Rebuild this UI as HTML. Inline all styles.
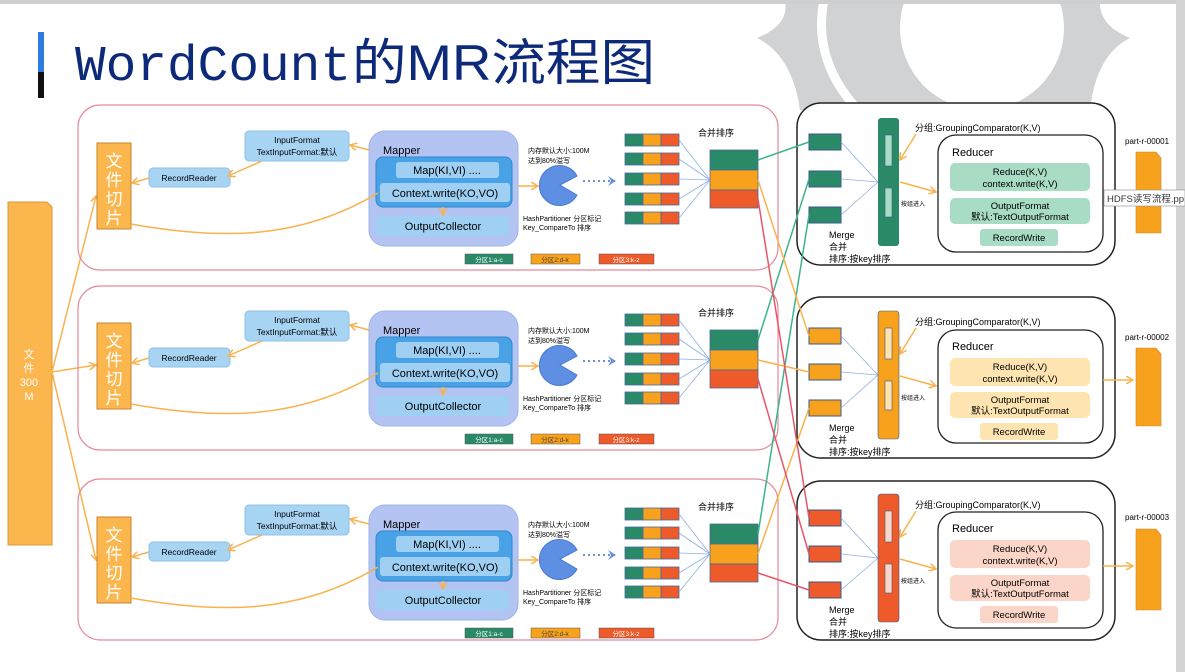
<!DOCTYPE html>
<html><head><meta charset="utf-8"><style>
html,body{margin:0;padding:0;background:#fff;}
svg{display:block;font-family:"Liberation Sans","Noto Sans CJK SC",sans-serif;}
</style></head><body>
<svg width="1185" height="672" viewBox="0 0 1185 672" xmlns="http://www.w3.org/2000/svg">
<defs>
<marker id="ao" markerWidth="8" markerHeight="8" refX="7" refY="4" orient="auto" markerUnits="userSpaceOnUse"><path d="M0,0 L7,4 L0,8" fill="none" stroke="#f9b24e" stroke-width="1.5"/></marker>
<marker id="ab" markerWidth="10" markerHeight="10" refX="8" refY="5" orient="auto" markerUnits="userSpaceOnUse"><path d="M0,0 L8,5 L0,10 L3,5z" fill="#6f8fd8"/></marker>
</defs>
<rect x="0" y="0" width="1185" height="672" fill="#fff"/>
<!-- bg decoration -->
<path d="M785,0 Q790,25 757,38 Q792,55 800,110 L1090,110 Q1096,55 1130,38 Q1098,25 1100,0 Z" fill="#d1d2d4"/>
<circle cx="982" cy="28" r="82" fill="#fff"/>
<path d="M824,0 Q812,60 858,110" stroke="#fff" stroke-width="9" fill="none"/>
<rect x="0" y="0" width="1185" height="4" fill="#cfcfcf"/>
<rect x="1176" y="0" width="9" height="672" fill="#d4d4d4"/>
<!-- title -->
<rect x="38" y="32" width="6" height="40" fill="#2f7be0"/>
<rect x="38" y="72" width="6" height="26" fill="#111"/>
<text x="75" y="80" font-family="Liberation Mono,monospace" font-size="50" fill="#0d2a7a" textLength="276" lengthAdjust="spacingAndGlyphs">WordCount</text>
<text x="352" y="80" font-family="Liberation Sans,Noto Sans CJK SC,sans-serif" font-size="50" fill="#0d2a7a" textLength="303" lengthAdjust="spacingAndGlyphs">的MR流程图</text>

<!-- big file -->
<path d="M8,202 L47,202 L52,207 L52,545 L8,545Z" fill="#fbb64d" stroke="#d99a3a"/>
<text x="29" y="358" font-size="11" fill="#fff" text-anchor="middle">文</text>
<text x="29" y="372" font-size="11" fill="#fff" text-anchor="middle">件</text>
<text x="29" y="386" font-size="11" fill="#fff" text-anchor="middle">300</text>
<text x="29" y="400" font-size="11" fill="#fff" text-anchor="middle">M</text>
<g stroke="#f9b24e" stroke-width="1.5" fill="none" marker-end="url(#ao)">
<path d="M52,372 L96,196"/><path d="M52,372 L96,365"/><path d="M52,372 L96,560"/>
</g>

<!-- ===== mapper rows ===== -->
<g>
<rect x="78" y="105" width="700" height="165" rx="22" fill="none" stroke="#e58a9a" stroke-width="1.2"/>
<rect x="97" y="143" width="34" height="86" fill="#fbb64d" stroke="#c9862e"/>
<text x="114" y="167" font-size="17" fill="#fff" text-anchor="middle">文</text>
<text x="114" y="186" font-size="17" fill="#fff" text-anchor="middle">件</text>
<text x="114" y="205" font-size="17" fill="#fff" text-anchor="middle">切</text>
<text x="114" y="224" font-size="17" fill="#fff" text-anchor="middle">片</text>
<rect x="245" y="131" width="104" height="30" rx="4" fill="#a8d4f4" stroke="#8ec0ea"/>
<text x="297" y="143" font-size="8.5" text-anchor="middle">InputFormat</text>
<text x="297" y="155" font-size="8.5" text-anchor="middle">TextInputFormat:默认</text>
<rect x="149" y="168" width="81" height="19" rx="4" fill="#a8d4f4" stroke="#8ec0ea"/>
<text x="189" y="181" font-size="8.5" text-anchor="middle">RecordReader</text>
<rect x="369" y="131" width="149" height="115" rx="16" fill="#b3c4f3" stroke="#9fb3ea"/>
<text x="383" y="154" font-size="11">Mapper</text>
<rect x="376" y="157" width="136" height="50" rx="7" fill="#4aa2e6" stroke="#2d86cc"/>
<rect x="396" y="162" width="103" height="16" rx="3" fill="#9fd0f4"/>
<text x="447" y="174" font-size="11" text-anchor="middle">Map(KI,VI) ....</text>
<rect x="380" y="183" width="130" height="19" rx="3" fill="#9fd0f4"/>
<text x="445" y="197" font-size="11" text-anchor="middle">Context.write(KO,VO)</text>
<rect x="376" y="216" width="133" height="20" rx="3" fill="#9fd0f4"/>
<text x="443" y="230" font-size="11" text-anchor="middle">OutputCollector</text>
<g stroke="#f9b24e" stroke-width="1.5" fill="none" marker-end="url(#ao)">
<path d="M369,150 L350,145"/><path d="M262,161 L228,176"/><path d="M149,178 L132,183"/>
<path d="M443,207 L443,215"/><path d="M518,186 L538,186"/>
</g>
<path d="M378,193 C300,240 220,240 131,224" stroke="#f9b24e" stroke-width="1.5" fill="none"/>
<path d="M560,185 L577,176 A20,20 0 1 0 577,195 Z" fill="#5e8fe2" stroke="#4a7bd0"/>
<path d="M583,181 L616,181" stroke="#6f8fd8" stroke-width="2" stroke-dasharray="2,3" marker-end="url(#ab)"/>
<text x="528" y="153" font-size="7">内存默认大小:100M</text>
<text x="528" y="163" font-size="7">达到80%溢写</text>
<text x="523" y="221" font-size="7">HashPartitioner 分区标记</text>
<text x="523" y="230" font-size="7">Key_CompareTo 排序</text>
<g stroke="#4a6a9a" stroke-width="0.8">
<rect x="625" y="134" width="18" height="12" fill="#2a8a68"/><rect x="643" y="134" width="18" height="12" fill="#f8a11c"/><rect x="661" y="134" width="18" height="12" fill="#ef5a2a"/>
<rect x="625" y="153" width="18" height="12" fill="#2a8a68"/><rect x="643" y="153" width="18" height="12" fill="#f8a11c"/><rect x="661" y="153" width="18" height="12" fill="#ef5a2a"/>
<rect x="625" y="173" width="18" height="12" fill="#2a8a68"/><rect x="643" y="173" width="18" height="12" fill="#f8a11c"/><rect x="661" y="173" width="18" height="12" fill="#ef5a2a"/>
<rect x="625" y="193" width="18" height="12" fill="#2a8a68"/><rect x="643" y="193" width="18" height="12" fill="#f8a11c"/><rect x="661" y="193" width="18" height="12" fill="#ef5a2a"/>
<rect x="625" y="212" width="18" height="12" fill="#2a8a68"/><rect x="643" y="212" width="18" height="12" fill="#f8a11c"/><rect x="661" y="212" width="18" height="12" fill="#ef5a2a"/>
<rect x="710" y="150" width="48" height="20" fill="#2a8a68"/><rect x="710" y="170" width="48" height="20" fill="#f8a11c"/><rect x="710" y="190" width="48" height="18" fill="#ef5a2a"/>
</g>
<g stroke="#8eaee8" stroke-width="0.8">
<path d="M679,140 L710,180"/><path d="M679,159 L710,180"/><path d="M679,179 L710,180"/><path d="M679,199 L710,180"/><path d="M679,218 L710,180"/>
</g>
<text x="698" y="136" font-size="9">合并排序</text>
<rect x="465" y="254" width="48" height="10" fill="#2a8a68" stroke="#555" stroke-width="0.5"/>
<text x="489" y="262" font-size="6.5" fill="#fff" text-anchor="middle">分区1:a-c</text>
<rect x="531" y="254" width="49" height="10" fill="#f8a11c" stroke="#555" stroke-width="0.5"/>
<text x="555" y="262" font-size="6.5" fill="#444" text-anchor="middle">分区2:d-k</text>
<rect x="599" y="254" width="55" height="10" fill="#ef5a2a" stroke="#555" stroke-width="0.5"/>
<text x="626" y="262" font-size="6.5" fill="#fff" text-anchor="middle">分区3:k-z</text>
</g>

<g transform="translate(0,180)">
<rect x="78" y="106" width="700" height="164" rx="22" fill="none" stroke="#e58a9a" stroke-width="1.2"/>
<rect x="97" y="143" width="34" height="86" fill="#fbb64d" stroke="#c9862e"/>
<text x="114" y="167" font-size="17" fill="#fff" text-anchor="middle">文</text>
<text x="114" y="186" font-size="17" fill="#fff" text-anchor="middle">件</text>
<text x="114" y="205" font-size="17" fill="#fff" text-anchor="middle">切</text>
<text x="114" y="224" font-size="17" fill="#fff" text-anchor="middle">片</text>
<rect x="245" y="131" width="104" height="30" rx="4" fill="#a8d4f4" stroke="#8ec0ea"/>
<text x="297" y="143" font-size="8.5" text-anchor="middle">InputFormat</text>
<text x="297" y="155" font-size="8.5" text-anchor="middle">TextInputFormat:默认</text>
<rect x="149" y="168" width="81" height="19" rx="4" fill="#a8d4f4" stroke="#8ec0ea"/>
<text x="189" y="181" font-size="8.5" text-anchor="middle">RecordReader</text>
<rect x="369" y="131" width="149" height="115" rx="16" fill="#b3c4f3" stroke="#9fb3ea"/>
<text x="383" y="154" font-size="11">Mapper</text>
<rect x="376" y="157" width="136" height="50" rx="7" fill="#4aa2e6" stroke="#2d86cc"/>
<rect x="396" y="162" width="103" height="16" rx="3" fill="#9fd0f4"/>
<text x="447" y="174" font-size="11" text-anchor="middle">Map(KI,VI) ....</text>
<rect x="380" y="183" width="130" height="19" rx="3" fill="#9fd0f4"/>
<text x="445" y="197" font-size="11" text-anchor="middle">Context.write(KO,VO)</text>
<rect x="376" y="216" width="133" height="20" rx="3" fill="#9fd0f4"/>
<text x="443" y="230" font-size="11" text-anchor="middle">OutputCollector</text>
<g stroke="#f9b24e" stroke-width="1.5" fill="none" marker-end="url(#ao)">
<path d="M369,150 L350,145"/><path d="M262,161 L228,176"/><path d="M149,178 L132,183"/>
<path d="M443,207 L443,215"/><path d="M518,186 L538,186"/>
</g>
<path d="M378,193 C300,240 220,240 131,224" stroke="#f9b24e" stroke-width="1.5" fill="none"/>
<path d="M560,185 L577,176 A20,20 0 1 0 577,195 Z" fill="#5e8fe2" stroke="#4a7bd0"/>
<path d="M583,181 L616,181" stroke="#6f8fd8" stroke-width="2" stroke-dasharray="2,3" marker-end="url(#ab)"/>
<text x="528" y="153" font-size="7">内存默认大小:100M</text>
<text x="528" y="163" font-size="7">达到80%溢写</text>
<text x="523" y="221" font-size="7">HashPartitioner 分区标记</text>
<text x="523" y="230" font-size="7">Key_CompareTo 排序</text>
<g stroke="#4a6a9a" stroke-width="0.8">
<rect x="625" y="134" width="18" height="12" fill="#2a8a68"/><rect x="643" y="134" width="18" height="12" fill="#f8a11c"/><rect x="661" y="134" width="18" height="12" fill="#ef5a2a"/>
<rect x="625" y="153" width="18" height="12" fill="#2a8a68"/><rect x="643" y="153" width="18" height="12" fill="#f8a11c"/><rect x="661" y="153" width="18" height="12" fill="#ef5a2a"/>
<rect x="625" y="173" width="18" height="12" fill="#2a8a68"/><rect x="643" y="173" width="18" height="12" fill="#f8a11c"/><rect x="661" y="173" width="18" height="12" fill="#ef5a2a"/>
<rect x="625" y="193" width="18" height="12" fill="#2a8a68"/><rect x="643" y="193" width="18" height="12" fill="#f8a11c"/><rect x="661" y="193" width="18" height="12" fill="#ef5a2a"/>
<rect x="625" y="212" width="18" height="12" fill="#2a8a68"/><rect x="643" y="212" width="18" height="12" fill="#f8a11c"/><rect x="661" y="212" width="18" height="12" fill="#ef5a2a"/>
<rect x="710" y="150" width="48" height="20" fill="#2a8a68"/><rect x="710" y="170" width="48" height="20" fill="#f8a11c"/><rect x="710" y="190" width="48" height="18" fill="#ef5a2a"/>
</g>
<g stroke="#8eaee8" stroke-width="0.8">
<path d="M679,140 L710,180"/><path d="M679,159 L710,180"/><path d="M679,179 L710,180"/><path d="M679,199 L710,180"/><path d="M679,218 L710,180"/>
</g>
<text x="698" y="136" font-size="9">合并排序</text>
<rect x="465" y="254" width="48" height="10" fill="#2a8a68" stroke="#555" stroke-width="0.5"/>
<text x="489" y="262" font-size="6.5" fill="#fff" text-anchor="middle">分区1:a-c</text>
<rect x="531" y="254" width="49" height="10" fill="#f8a11c" stroke="#555" stroke-width="0.5"/>
<text x="555" y="262" font-size="6.5" fill="#444" text-anchor="middle">分区2:d-k</text>
<rect x="599" y="254" width="55" height="10" fill="#ef5a2a" stroke="#555" stroke-width="0.5"/>
<text x="626" y="262" font-size="6.5" fill="#fff" text-anchor="middle">分区3:k-z</text>
</g>

<g transform="translate(0,374)">
<rect x="78" y="105" width="700" height="161" rx="22" fill="none" stroke="#e58a9a" stroke-width="1.2"/>
<rect x="97" y="143" width="34" height="86" fill="#fbb64d" stroke="#c9862e"/>
<text x="114" y="167" font-size="17" fill="#fff" text-anchor="middle">文</text>
<text x="114" y="186" font-size="17" fill="#fff" text-anchor="middle">件</text>
<text x="114" y="205" font-size="17" fill="#fff" text-anchor="middle">切</text>
<text x="114" y="224" font-size="17" fill="#fff" text-anchor="middle">片</text>
<rect x="245" y="131" width="104" height="30" rx="4" fill="#a8d4f4" stroke="#8ec0ea"/>
<text x="297" y="143" font-size="8.5" text-anchor="middle">InputFormat</text>
<text x="297" y="155" font-size="8.5" text-anchor="middle">TextInputFormat:默认</text>
<rect x="149" y="168" width="81" height="19" rx="4" fill="#a8d4f4" stroke="#8ec0ea"/>
<text x="189" y="181" font-size="8.5" text-anchor="middle">RecordReader</text>
<rect x="369" y="131" width="149" height="115" rx="16" fill="#b3c4f3" stroke="#9fb3ea"/>
<text x="383" y="154" font-size="11">Mapper</text>
<rect x="376" y="157" width="136" height="50" rx="7" fill="#4aa2e6" stroke="#2d86cc"/>
<rect x="396" y="162" width="103" height="16" rx="3" fill="#9fd0f4"/>
<text x="447" y="174" font-size="11" text-anchor="middle">Map(KI,VI) ....</text>
<rect x="380" y="183" width="130" height="19" rx="3" fill="#9fd0f4"/>
<text x="445" y="197" font-size="11" text-anchor="middle">Context.write(KO,VO)</text>
<rect x="376" y="216" width="133" height="20" rx="3" fill="#9fd0f4"/>
<text x="443" y="230" font-size="11" text-anchor="middle">OutputCollector</text>
<g stroke="#f9b24e" stroke-width="1.5" fill="none" marker-end="url(#ao)">
<path d="M369,150 L350,145"/><path d="M262,161 L228,176"/><path d="M149,178 L132,183"/>
<path d="M443,207 L443,215"/><path d="M518,186 L538,186"/>
</g>
<path d="M378,193 C300,240 220,240 131,224" stroke="#f9b24e" stroke-width="1.5" fill="none"/>
<path d="M560,185 L577,176 A20,20 0 1 0 577,195 Z" fill="#5e8fe2" stroke="#4a7bd0"/>
<path d="M583,181 L616,181" stroke="#6f8fd8" stroke-width="2" stroke-dasharray="2,3" marker-end="url(#ab)"/>
<text x="528" y="153" font-size="7">内存默认大小:100M</text>
<text x="528" y="163" font-size="7">达到80%溢写</text>
<text x="523" y="221" font-size="7">HashPartitioner 分区标记</text>
<text x="523" y="230" font-size="7">Key_CompareTo 排序</text>
<g stroke="#4a6a9a" stroke-width="0.8">
<rect x="625" y="134" width="18" height="12" fill="#2a8a68"/><rect x="643" y="134" width="18" height="12" fill="#f8a11c"/><rect x="661" y="134" width="18" height="12" fill="#ef5a2a"/>
<rect x="625" y="153" width="18" height="12" fill="#2a8a68"/><rect x="643" y="153" width="18" height="12" fill="#f8a11c"/><rect x="661" y="153" width="18" height="12" fill="#ef5a2a"/>
<rect x="625" y="173" width="18" height="12" fill="#2a8a68"/><rect x="643" y="173" width="18" height="12" fill="#f8a11c"/><rect x="661" y="173" width="18" height="12" fill="#ef5a2a"/>
<rect x="625" y="193" width="18" height="12" fill="#2a8a68"/><rect x="643" y="193" width="18" height="12" fill="#f8a11c"/><rect x="661" y="193" width="18" height="12" fill="#ef5a2a"/>
<rect x="625" y="212" width="18" height="12" fill="#2a8a68"/><rect x="643" y="212" width="18" height="12" fill="#f8a11c"/><rect x="661" y="212" width="18" height="12" fill="#ef5a2a"/>
<rect x="710" y="150" width="48" height="20" fill="#2a8a68"/><rect x="710" y="170" width="48" height="20" fill="#f8a11c"/><rect x="710" y="190" width="48" height="18" fill="#ef5a2a"/>
</g>
<g stroke="#8eaee8" stroke-width="0.8">
<path d="M679,140 L710,180"/><path d="M679,159 L710,180"/><path d="M679,179 L710,180"/><path d="M679,199 L710,180"/><path d="M679,218 L710,180"/>
</g>
<text x="698" y="136" font-size="9">合并排序</text>
<rect x="465" y="254" width="48" height="10" fill="#2a8a68" stroke="#555" stroke-width="0.5"/>
<text x="489" y="262" font-size="6.5" fill="#fff" text-anchor="middle">分区1:a-c</text>
<rect x="531" y="254" width="49" height="10" fill="#f8a11c" stroke="#555" stroke-width="0.5"/>
<text x="555" y="262" font-size="6.5" fill="#444" text-anchor="middle">分区2:d-k</text>
<rect x="599" y="254" width="55" height="10" fill="#ef5a2a" stroke="#555" stroke-width="0.5"/>
<text x="626" y="262" font-size="6.5" fill="#fff" text-anchor="middle">分区3:k-z</text>
</g>

<!-- ===== reducer rows ===== -->
<g>
<rect x="797" y="103" width="318" height="162" rx="24" fill="#fff" stroke="#222" stroke-width="1.5"/>
<rect x="938" y="135" width="165" height="117" rx="18" fill="#fff" stroke="#222" stroke-width="1.3"/>
<g stroke="#3a5a8a" stroke-width="1"><rect x="809" y="134" width="32" height="16" fill="#2a8a68"/><rect x="809" y="171" width="32" height="16" fill="#2a8a68"/><rect x="809" y="207" width="32" height="16" fill="#2a8a68"/></g>
<g stroke="#8eaee8" stroke-width="0.8"><path d="M841,142 L878,182"/><path d="M841,179 L878,182"/><path d="M841,215 L878,182"/></g>
<rect x="878" y="118" width="21" height="128" rx="3" fill="#2a8a68"/>
<rect x="885" y="135" width="7" height="31" fill="#a8dcc4" stroke="#3a5a8a" stroke-width="0.6"/>
<rect x="885" y="188" width="7" height="29" fill="#a8dcc4" stroke="#3a5a8a" stroke-width="0.6"/>
<text x="829" y="238" font-size="9">Merge</text><text x="829" y="250" font-size="9">合并</text><text x="829" y="262" font-size="9">排序:按key排序</text>
<text x="915" y="131" font-size="9">分组:GroupingComparator(K,V)</text>
<g stroke="#f9b24e" stroke-width="1.5" fill="none" marker-end="url(#ao)"><path d="M916,134 L900,160"/><path d="M900,182 L936,192"/></g>
<text x="901" y="206" font-size="6">按组进入</text>
<text x="952" y="156" font-size="11">Reducer</text>
<rect x="950" y="163" width="140" height="28" rx="5" fill="#a8dcc4"/>
<text x="1020" y="175" font-size="9.5" text-anchor="middle">Reduce(K,V)</text><text x="1020" y="187" font-size="9.5" text-anchor="middle">context.write(K,V)</text>
<rect x="950" y="198" width="140" height="26" rx="5" fill="#a8dcc4"/>
<text x="1020" y="209" font-size="9.5" text-anchor="middle">OutputFormat</text><text x="1020" y="220" font-size="9.5" text-anchor="middle">默认:TextOutputFormat</text>
<rect x="980" y="229" width="78" height="17" rx="3" fill="#a8dcc4"/>
<text x="1019" y="241" font-size="9.5" text-anchor="middle">RecordWrite</text>
<text x="1125" y="144" font-size="8">part-r-00001</text>
<path d="M1136,152 L1156,152 L1161,158 L1161,233 L1136,233Z" fill="#f8a11c" stroke="#c98a2a" stroke-width="0.6"/>
</g>

<g>
<rect x="797" y="297" width="318" height="161" rx="24" fill="#fff" stroke="#222" stroke-width="1.5"/>
<rect x="938" y="330" width="165" height="113" rx="18" fill="#fff" stroke="#222" stroke-width="1.3"/>
<g stroke="#3a5a8a" stroke-width="1"><rect x="809" y="328" width="32" height="16" fill="#f8a11c"/><rect x="809" y="364" width="32" height="16" fill="#f8a11c"/><rect x="809" y="400" width="32" height="16" fill="#f8a11c"/></g>
<g stroke="#8eaee8" stroke-width="0.8"><path d="M841,336 L878,375"/><path d="M841,372 L878,375"/><path d="M841,408 L878,375"/></g>
<rect x="878" y="311" width="21" height="128" rx="3" fill="#f8a11c" stroke="#3a5a8a" stroke-width="0.6"/>
<rect x="885" y="328" width="7" height="31" fill="#fde4b0" stroke="#3a5a8a" stroke-width="0.6"/>
<rect x="885" y="381" width="7" height="29" fill="#fde4b0" stroke="#3a5a8a" stroke-width="0.6"/>
<text x="829" y="431" font-size="9">Merge</text><text x="829" y="443" font-size="9">合并</text><text x="829" y="455" font-size="9">排序:按key排序</text>
<text x="915" y="325" font-size="9">分组:GroupingComparator(K,V)</text>
<g stroke="#f9b24e" stroke-width="1.5" fill="none" marker-end="url(#ao)"><path d="M916,328 L900,354"/><path d="M900,376 L936,386"/><path d="M1103,380 L1133,380"/></g>
<text x="901" y="400" font-size="6">按组进入</text>
<text x="952" y="350" font-size="11">Reducer</text>
<rect x="950" y="358" width="140" height="28" rx="5" fill="#fde4b0"/>
<text x="1020" y="370" font-size="9.5" text-anchor="middle">Reduce(K,V)</text><text x="1020" y="382" font-size="9.5" text-anchor="middle">context.write(K,V)</text>
<rect x="950" y="392" width="140" height="26" rx="5" fill="#fde4b0"/>
<text x="1020" y="403" font-size="9.5" text-anchor="middle">OutputFormat</text><text x="1020" y="414" font-size="9.5" text-anchor="middle">默认:TextOutputFormat</text>
<rect x="980" y="423" width="78" height="17" rx="3" fill="#fde4b0"/>
<text x="1019" y="435" font-size="9.5" text-anchor="middle">RecordWrite</text>
<text x="1125" y="340" font-size="8">part-r-00002</text>
<path d="M1136,348 L1156,348 L1161,354 L1161,426 L1136,426Z" fill="#f8a11c" stroke="#c98a2a" stroke-width="0.6"/>
</g>

<g>
<rect x="797" y="481" width="318" height="159" rx="24" fill="#fff" stroke="#222" stroke-width="1.5"/>
<rect x="938" y="512" width="165" height="116" rx="18" fill="#fff" stroke="#222" stroke-width="1.3"/>
<g stroke="#3a5a8a" stroke-width="1"><rect x="809" y="510" width="32" height="16" fill="#ef5a2a"/><rect x="809" y="546" width="32" height="16" fill="#ef5a2a"/><rect x="809" y="582" width="32" height="16" fill="#ef5a2a"/></g>
<g stroke="#8eaee8" stroke-width="0.8"><path d="M841,518 L878,558"/><path d="M841,554 L878,558"/><path d="M841,590 L878,558"/></g>
<rect x="878" y="494" width="21" height="128" rx="3" fill="#ef5a2a" stroke="#3a5a8a" stroke-width="0.6"/>
<rect x="885" y="511" width="7" height="31" fill="#fbd5c8" stroke="#3a5a8a" stroke-width="0.6"/>
<rect x="885" y="564" width="7" height="29" fill="#fbd5c8" stroke="#3a5a8a" stroke-width="0.6"/>
<text x="829" y="613" font-size="9">Merge</text><text x="829" y="625" font-size="9">合并</text><text x="829" y="637" font-size="9">排序:按key排序</text>
<text x="915" y="508" font-size="9">分组:GroupingComparator(K,V)</text>
<g stroke="#f9b24e" stroke-width="1.5" fill="none" marker-end="url(#ao)"><path d="M916,511 L900,537"/><path d="M900,559 L936,569"/><path d="M1103,566 L1133,566"/></g>
<text x="901" y="583" font-size="6">按组进入</text>
<text x="952" y="532" font-size="11">Reducer</text>
<rect x="950" y="540" width="140" height="28" rx="5" fill="#fbd5c8"/>
<text x="1020" y="552" font-size="9.5" text-anchor="middle">Reduce(K,V)</text><text x="1020" y="564" font-size="9.5" text-anchor="middle">context.write(K,V)</text>
<rect x="950" y="575" width="140" height="26" rx="5" fill="#fbd5c8"/>
<text x="1020" y="586" font-size="9.5" text-anchor="middle">OutputFormat</text><text x="1020" y="597" font-size="9.5" text-anchor="middle">默认:TextOutputFormat</text>
<rect x="980" y="606" width="78" height="17" rx="3" fill="#fbd5c8"/>
<text x="1019" y="618" font-size="9.5" text-anchor="middle">RecordWrite</text>
<text x="1125" y="520" font-size="8">part-r-00003</text>
<path d="M1136,529 L1156,529 L1161,535 L1161,610 L1136,610Z" fill="#f8a11c" stroke="#c98a2a" stroke-width="0.6"/>
</g>

<!-- cross connectors -->
<g stroke-width="1.5" fill="none">
<path d="M758,160 L809,142" stroke="#3cb48a"/>
<path d="M758,340 L809,179" stroke="#3cb48a"/>
<path d="M758,534 L809,215" stroke="#3cb48a"/>
<path d="M758,180 L809,336" stroke="#f9b24e"/>
<path d="M758,360 L809,372" stroke="#f9b24e"/>
<path d="M758,554 L809,408" stroke="#f9b24e"/>
<path d="M758,199 L809,518" stroke="#e8566a"/>
<path d="M758,379 L809,554" stroke="#e8566a"/>
<path d="M758,573 L809,590" stroke="#e8566a"/>
</g>

<!-- tooltip -->
<rect x="1104" y="190" width="81" height="16" fill="#fff" stroke="#999" stroke-width="0.7"/>
<text x="1107" y="202" font-size="9.5" fill="#333">HDFS读写流程.pp</text>
</svg>
</body></html>
